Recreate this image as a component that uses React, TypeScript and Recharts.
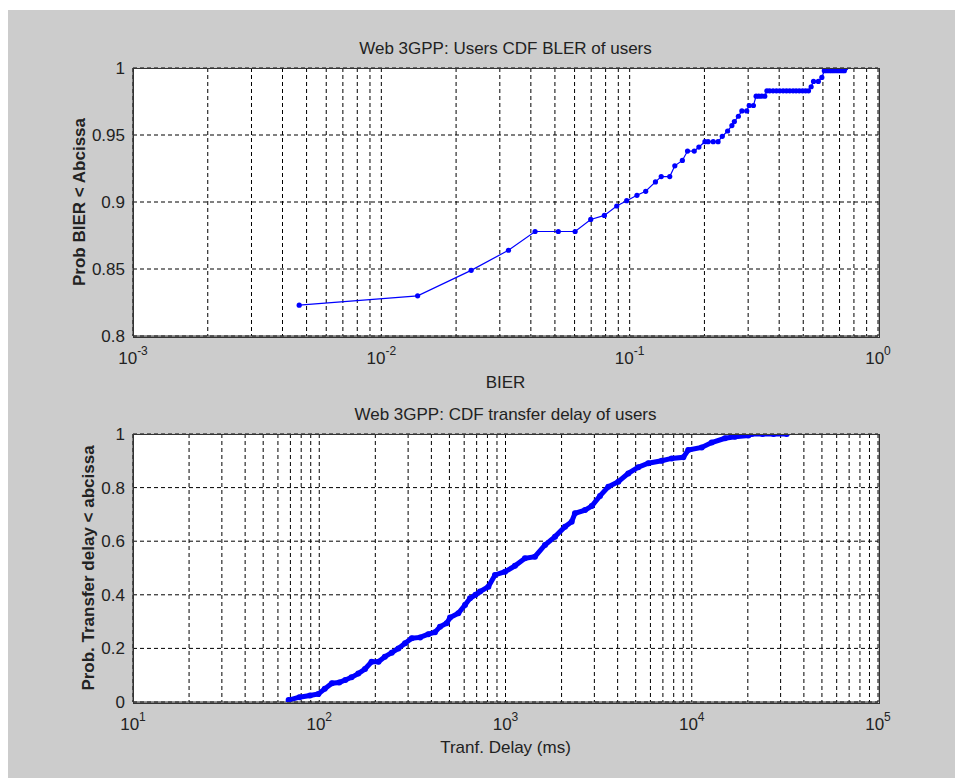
import { LineChart, Line, XAxis, YAxis, CartesianGrid } from "recharts";

// upper panel: BLER per user
const blerValues = [
  0.00467, 0.014, 0.023, 0.0325, 0.0416, 0.0516, 0.0603, 0.0697, 0.0791, 0.0887,
  0.0973, 0.107, 0.116, 0.127, 0.134, 0.145, 0.152, 0.163, 0.171, 0.182,
  0.19, 0.201, 0.207, 0.217, 0.227, 0.236, 0.248, 0.258, 0.264, 0.274,
  0.283, 0.296, 0.303, 0.315, 0.323, 0.331, 0.34, 0.35, 0.357, 0.366,
  0.378, 0.39, 0.402, 0.415, 0.428, 0.441, 0.455, 0.468, 0.482, 0.497,
  0.511, 0.525, 0.538, 0.55, 0.575, 0.594, 0.608, 0.622, 0.637, 0.651,
  0.666, 0.683, 0.699, 0.716, 0.732, 0.741,
];
const blerProb = [
  0.823, 0.83, 0.849, 0.864, 0.878, 0.878, 0.878, 0.887, 0.89, 0.897,
  0.901, 0.905, 0.908, 0.915, 0.919, 0.919, 0.927, 0.931, 0.938, 0.938,
  0.941, 0.945, 0.945, 0.945, 0.945, 0.949, 0.953, 0.957, 0.96, 0.964,
  0.968, 0.968, 0.972, 0.972, 0.979, 0.979, 0.979, 0.979, 0.983, 0.983,
  0.983, 0.983, 0.983, 0.983, 0.983, 0.983, 0.983, 0.983, 0.983, 0.983,
  0.983, 0.983, 0.986, 0.99, 0.99, 0.993, 0.998, 0.998, 0.998, 0.998,
  0.998, 0.998, 0.998, 0.998, 0.998, 1.0,
];

// lower panel: transfer delay (ms)
const delayValues = [
  68.5, 78.2, 89.2, 98.9, 107, 117, 128, 138, 149, 162,
  176, 191, 208, 225, 245, 266, 289, 314, 348, 385,
  418, 445, 483, 504, 558, 606, 645, 690, 730, 809,
  878, 994, 1124, 1272, 1439, 1629, 1845, 2087, 2266, 2361,
  2672, 2904, 3217, 3565, 4034, 4564, 5164, 5845, 6898, 7801,
  9008, 9576, 11310, 12796, 15085, 17060, 20120, 20990, 24000, 27500,
  32360,
];
const delayProb = [
  0.007, 0.018, 0.024, 0.03, 0.049, 0.07, 0.073, 0.082, 0.092, 0.106,
  0.123, 0.15, 0.15, 0.169, 0.184, 0.2, 0.219, 0.238, 0.241, 0.253,
  0.26, 0.281, 0.294, 0.315, 0.331, 0.362, 0.387, 0.4, 0.412, 0.43,
  0.474, 0.486, 0.508, 0.536, 0.542, 0.586, 0.617, 0.654, 0.673, 0.704,
  0.716, 0.731, 0.769, 0.803, 0.822, 0.853, 0.876, 0.891, 0.9, 0.909,
  0.913, 0.94, 0.95, 0.968, 0.984, 0.99, 0.994, 1.0, 1.0, 1.0,
  1.0,
];

const blerTicks = [
  0.001, 0.002, 0.003, 0.004, 0.005, 0.006, 0.007, 0.008, 0.009,
  0.01, 0.02, 0.03, 0.04, 0.05, 0.06, 0.07, 0.08, 0.09,
  0.1, 0.2, 0.3, 0.4, 0.5, 0.6, 0.7, 0.8, 0.9, 1,
];
const delayTicks = [
  10, 20, 30, 40, 50, 60, 70, 80, 90,
  100, 200, 300, 400, 500, 600, 700, 800, 900,
  1000, 2000, 3000, 4000, 5000, 6000, 7000, 8000, 9000,
  10000, 20000, 30000, 40000, 50000, 60000, 70000, 80000, 90000, 100000,
];
const blerYTicks = [0.8, 0.85, 0.9, 0.95, 1];
const delayYTicks = [0, 0.2, 0.4, 0.6, 0.8, 1];

const FONT = 'Arial, "Liberation Sans", sans-serif';
const TEXT = "#222";
const FRAME = "#333";

const blerData = blerValues.map((x, i) => ({ x, p: blerProb[i] }));
const delayData = delayValues.map((x, i) => ({ x, p: delayProb[i] }));

// only decades get a label, drawn as 10 with a superscript exponent
function LogTick(props: any) {
  const { x, y, payload } = props;
  const lg = Math.log10(payload.value);
  const e = Math.round(lg);
  if (Math.abs(lg - e) > 1e-6) return <g />;
  return (
    <text x={x} y={y + 28} textAnchor="middle" fill={TEXT} fontSize={17} fontFamily={FONT}>
      <tspan>10</tspan>
      <tspan dy={-9} fontSize={12}>
        {e}
      </tspan>
    </text>
  );
}

function Panel(props: any) {
  const { data, xTicks, xDomain, yTicks, yDomain, top, height, mTop, mBottom, sw, r } = props;
  const plotH = height - mTop - mBottom - 40;
  return (
    <div style={{ position: "absolute", left: 0, top, width: 955, height }}>
      <LineChart
        width={955}
        height={height}
        data={data}
        margin={{ top: mTop, right: 77, bottom: mBottom, left: 73 }}
      >
        <CartesianGrid fill="#fff" stroke="#000" strokeDasharray="4 3" />
        <XAxis
          dataKey="x"
          type="number"
          scale="log"
          domain={xDomain}
          ticks={xTicks}
          interval={0}
          allowDataOverflow
          height={40}
          tickLine={false}
          tickSize={0}
          tickMargin={0}
          tick={<LogTick />}
          axisLine={{ stroke: FRAME }}
        />
        <YAxis
          type="number"
          domain={yDomain}
          ticks={yTicks}
          interval={0}
          allowDataOverflow
          width={60}
          tickLine={false}
          tickSize={0}
          tickMargin={8}
          tick={{ fill: TEXT, fontSize: 17, fontFamily: FONT }}
          axisLine={{ stroke: FRAME }}
        />
        <Line
          dataKey="p"
          type="linear"
          stroke="#0000ff"
          strokeWidth={sw}
          dot={{ r, fill: "#0000ff", stroke: "#0000ff", strokeWidth: 0 }}
          isAnimationActive={false}
        />
      </LineChart>
      {/* axes box */}
      <div
        style={{
          position: "absolute",
          left: 132.5,
          top: mTop - 0.5,
          width: 745,
          height: plotH,
          border: `1px solid ${FRAME}`,
          pointerEvents: "none",
        }}
      />
    </div>
  );
}

const label = (text: string, baseline: number, bold = false) => (
  <div
    style={{
      position: "absolute",
      left: 133,
      width: 745,
      top: baseline - 14.4,
      textAlign: "center",
      fontSize: 17,
      lineHeight: "17px",
      fontWeight: bold ? "bold" : "normal",
      color: TEXT,
      whiteSpace: "nowrap",
    }}
  >
    {text}
  </div>
);

const yLabel = (text: string, cx: number, cy: number) => (
  <div
    style={{
      position: "absolute",
      left: cx,
      top: cy,
      transform: "translate(-50%, -50%) rotate(-90deg)",
      fontSize: 17,
      lineHeight: "17px",
      fontWeight: "bold",
      color: TEXT,
      whiteSpace: "nowrap",
    }}
  >
    {text}
  </div>
);

export default function App() {
  return (
    <div
      style={{
        position: "relative",
        width: 955,
        height: 778,
        background: "#fff",
        overflow: "hidden",
        fontFamily: FONT,
      }}
    >
      <style>{"body{margin:0;overflow:hidden}"}</style>
      <div style={{ position: "absolute", left: 8, top: 10, right: 0, bottom: 0, background: "#cccccc" }} />
      <Panel
        data={blerData}
        xTicks={blerTicks}
        xDomain={[0.001, 1]}
        yTicks={blerYTicks}
        yDomain={[0.8, 1]}
        top={0}
        height={400}
        mTop={68}
        mBottom={24}
        sw={1.2}
        r={2.6}
      />
      <Panel
        data={delayData}
        xTicks={delayTicks}
        xDomain={[10, 100000]}
        yTicks={delayYTicks}
        yDomain={[0, 1]}
        top={380}
        height={398}
        mTop={54}
        mBottom={36}
        sw={5}
        r={3}
      />
      {label("Web 3GPP: Users CDF BLER of users", 54)}
      {label("BIER", 388)}
      {label("Web 3GPP: CDF transfer delay of users", 420.7)}
      {label("Tranf. Delay (ms)", 753)}
      {yLabel("Prob BIER < Abcissa", 79, 202)}
      {yLabel("Prob. Transfer delay < abcissa", 88, 568)}
    </div>
  );
}
